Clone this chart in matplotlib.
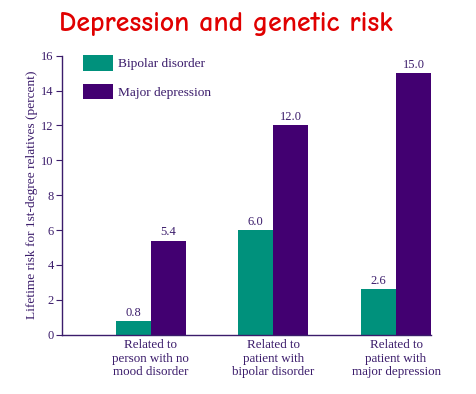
import matplotlib
matplotlib.use('Agg')
import matplotlib.pyplot as plt
import numpy as np

categories = ['Related to\nperson with no\nmood disorder',
              'Related to\npatient with\nbipolar disorder',
              'Related to\npatient with\nmajor depression']
bipolar = [0.8, 6.0, 2.6]
major = [5.4, 12.0, 15.0]
series_labels = ['Bipolar disorder', 'Major depression']

teal = '#00917c'
purple = '#420071'
txt = '#3b1c6b'
serif = ['Liberation Serif', 'DejaVu Serif']

fig = plt.figure(figsize=(4.76, 3.94), dpi=100)
ax = fig.add_axes([0.1303, 0.1505, 0.7752, 0.7081])

x = np.arange(len(categories))
w = 0.285
ax.bar(x - w / 2, bipolar, w, color=teal, label=series_labels[0])
ax.bar(x + w / 2, major, w, color=purple, label=series_labels[1])

for xi, v in zip(x - w / 2, bipolar):
    ax.text(xi, v + 0.12, '%.1f' % v, ha='center', va='bottom', fontsize=9,
            color=txt, family=serif)
for xi, v in zip(x + w / 2, major):
    ax.text(xi, v + 0.12, '%.1f' % v, ha='center', va='bottom', fontsize=9,
            color=txt, family=serif)

ax.set_xlim(-0.721, 2.285)
ax.set_ylim(0, 16)
ax.set_yticks(range(0, 17, 2))
ax.set_xticks(x)
ax.set_xticklabels(categories, fontsize=9.4, color=txt, family=serif, linespacing=1.2)
ax.tick_params(axis='x', length=0, pad=3)
ax.tick_params(axis='y', length=4, width=0.8, colors=txt, labelsize=9, pad=2)
for lab in ax.get_yticklabels():
    lab.set_family(serif)

for s in ['top', 'right']:
    ax.spines[s].set_visible(False)
for s in ['left', 'bottom']:
    ax.spines[s].set_color(txt)
    ax.spines[s].set_linewidth(1.0)

ax.set_ylabel('Lifetime risk for 1st-degree relatives (percent)', fontsize=9.6,
              color=txt, family=serif, labelpad=2)

leg = ax.legend(loc='upper left', bbox_to_anchor=(0.024, 1.045), frameon=False,
                prop={'family': serif, 'size': 9.6}, handlelength=2.25,
                handleheight=1.45, labelspacing=0.95, handletextpad=0.4)
for t in leg.get_texts():
    t.set_color(txt)

fig.text(0.475, 0.94, 'Depression and genetic risk', ha='center', va='center',
         fontsize=20, color='#e00000', fontweight='bold',
         family=['Comic Neue', 'DejaVu Sans'])

fig.savefig('out.png', dpi=100)
